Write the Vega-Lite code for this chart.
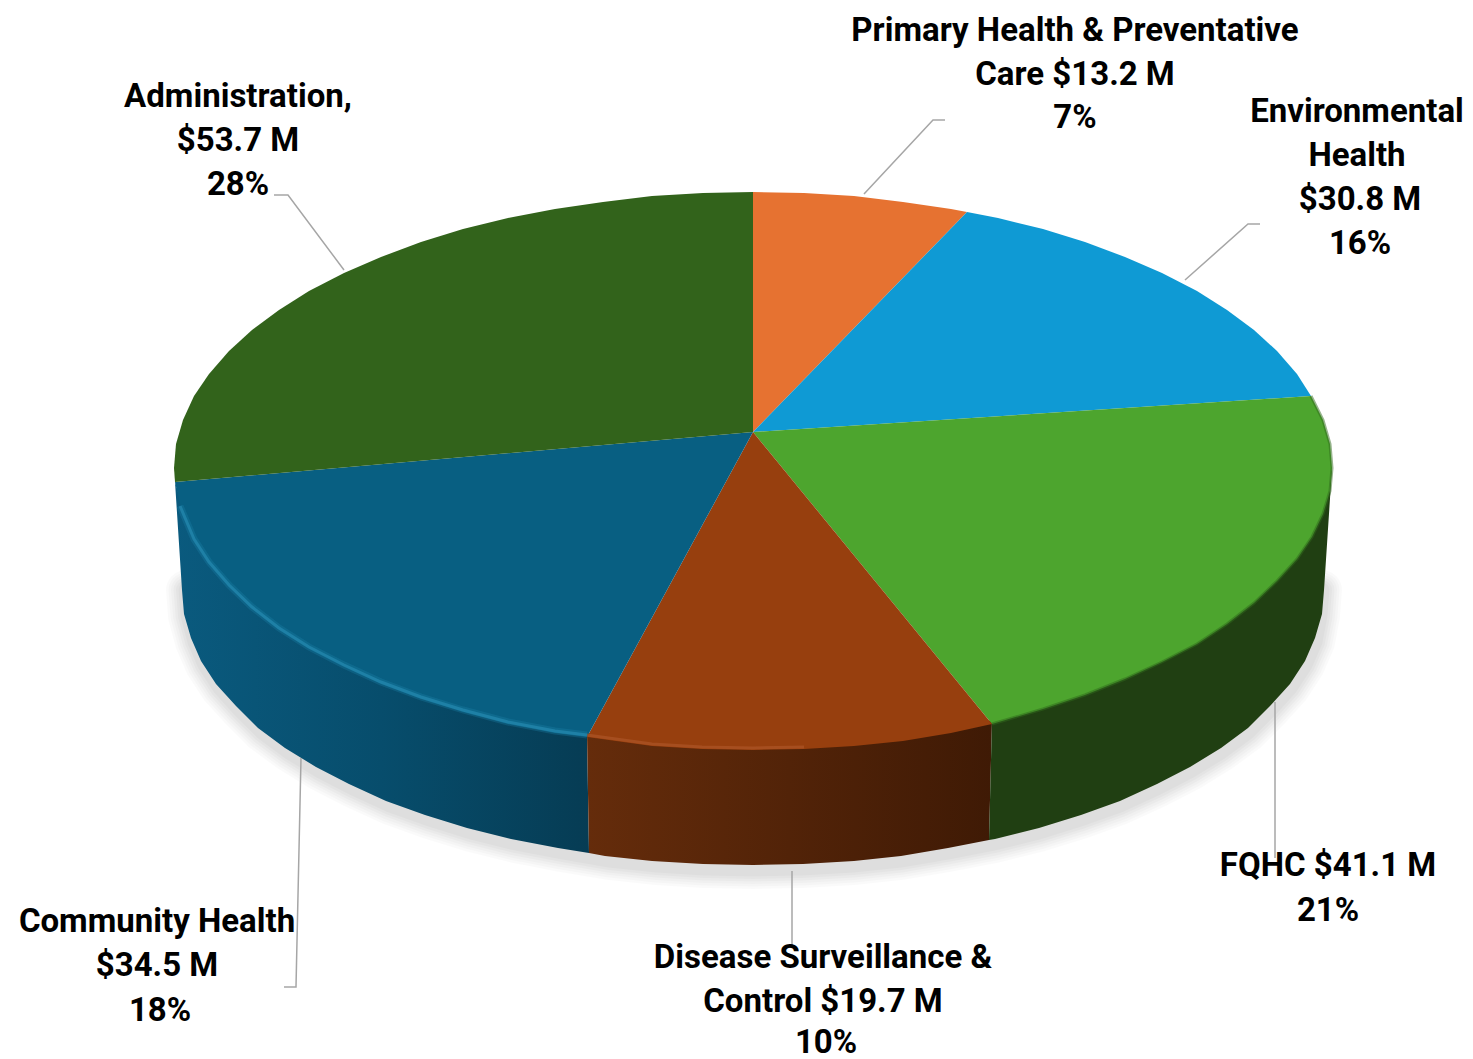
{
"$schema":"https://vega.github.io/schema/vega-lite/v6.json",
"width":1473,"height":1059,"padding":0,"autosize":{"type":"none"},
"background":"#ffffff","view":{"stroke":null},
"datasets":{
"top":[
{"s":"Primary Health","o":0,"x":753,"y":432},{"s":"Primary Health","o":1,"x":753,"y":192},{"s":"Primary Health","o":2,"x":804,"y":193},{"s":"Primary Health","o":3,"x":854,"y":196},{"s":"Primary Health","o":4,"x":903,"y":202},{"s":"Primary Health","o":5,"x":951,"y":209},{"s":"Primary Health","o":6,"x":967,"y":212},
{"s":"Environmental","o":0,"x":753,"y":432},{"s":"Environmental","o":1,"x":967,"y":212},{"s":"Environmental","o":2,"x":998,"y":218},{"s":"Environmental","o":3,"x":1043,"y":229},{"s":"Environmental","o":4,"x":1085,"y":242},{"s":"Environmental","o":5,"x":1125,"y":257},{"s":"Environmental","o":6,"x":1162,"y":273},{"s":"Environmental","o":7,"x":1197,"y":291},{"s":"Environmental","o":8,"x":1227,"y":310},{"s":"Environmental","o":9,"x":1254,"y":330},{"s":"Environmental","o":10,"x":1277,"y":351},{"s":"Environmental","o":11,"x":1297,"y":374},{"s":"Environmental","o":12,"x":1311,"y":396},
{"s":"FQHC","o":0,"x":753,"y":432},{"s":"FQHC","o":1,"x":1311,"y":396},{"s":"FQHC","o":2,"x":1323,"y":420},{"s":"FQHC","o":3,"x":1330,"y":444},{"s":"FQHC","o":4,"x":1332,"y":468},{"s":"FQHC","o":5,"x":1330,"y":491},{"s":"FQHC","o":6,"x":1323,"y":514},{"s":"FQHC","o":7,"x":1312,"y":537},{"s":"FQHC","o":8,"x":1297,"y":559},{"s":"FQHC","o":9,"x":1277,"y":581},{"s":"FQHC","o":10,"x":1254,"y":603},{"s":"FQHC","o":11,"x":1227,"y":624},{"s":"FQHC","o":12,"x":1197,"y":644},{"s":"FQHC","o":13,"x":1162,"y":662},{"s":"FQHC","o":14,"x":1125,"y":679},{"s":"FQHC","o":15,"x":1085,"y":695},{"s":"FQHC","o":16,"x":1043,"y":709},{"s":"FQHC","o":17,"x":992,"y":724},
{"s":"Disease","o":0,"x":753,"y":432},{"s":"Disease","o":1,"x":992,"y":724},{"s":"Disease","o":2,"x":951,"y":733},{"s":"Disease","o":3,"x":903,"y":741},{"s":"Disease","o":4,"x":854,"y":746},{"s":"Disease","o":5,"x":804,"y":749},{"s":"Disease","o":6,"x":753,"y":750},{"s":"Disease","o":7,"x":702,"y":749},{"s":"Disease","o":8,"x":652,"y":746},{"s":"Disease","o":9,"x":587,"y":737},
{"s":"Community","o":0,"x":753,"y":432},{"s":"Community","o":1,"x":587,"y":737},{"s":"Community","o":2,"x":555,"y":733},{"s":"Community","o":3,"x":508,"y":724},{"s":"Community","o":4,"x":463,"y":712},{"s":"Community","o":5,"x":421,"y":699},{"s":"Community","o":6,"x":381,"y":684},{"s":"Community","o":7,"x":344,"y":667},{"s":"Community","o":8,"x":309,"y":649},{"s":"Community","o":9,"x":279,"y":630},{"s":"Community","o":10,"x":252,"y":609},{"s":"Community","o":11,"x":229,"y":587},{"s":"Community","o":12,"x":209,"y":564},{"s":"Community","o":13,"x":194,"y":541},{"s":"Community","o":14,"x":183,"y":517},{"s":"Community","o":15,"x":175,"y":482},
{"s":"Administration","o":0,"x":753,"y":432},{"s":"Administration","o":1,"x":175,"y":482},{"s":"Administration","o":2,"x":174,"y":468},{"s":"Administration","o":3,"x":176,"y":444},{"s":"Administration","o":4,"x":183,"y":420},{"s":"Administration","o":5,"x":194,"y":396},{"s":"Administration","o":6,"x":209,"y":374},{"s":"Administration","o":7,"x":229,"y":351},{"s":"Administration","o":8,"x":252,"y":330},{"s":"Administration","o":9,"x":279,"y":310},{"s":"Administration","o":10,"x":309,"y":291},{"s":"Administration","o":11,"x":344,"y":273},{"s":"Administration","o":12,"x":381,"y":257},{"s":"Administration","o":13,"x":421,"y":242},{"s":"Administration","o":14,"x":463,"y":229},{"s":"Administration","o":15,"x":508,"y":218},{"s":"Administration","o":16,"x":555,"y":209},{"s":"Administration","o":17,"x":603,"y":202},{"s":"Administration","o":18,"x":652,"y":196},{"s":"Administration","o":19,"x":703,"y":193},{"s":"Administration","o":20,"x":753,"y":192}
],
"sideFQHC":[
{"o":0,"x":1332,"y":468},{"o":1,"x":1320,"y":510},{"o":2,"x":1290,"y":555},{"o":3,"x":1245,"y":600},{"o":4,"x":1190,"y":640},{"o":5,"x":1120,"y":675},{"o":6,"x":1040,"y":705},{"o":7,"x":992,"y":720},
{"o":8,"x":989,"y":840},{"o":9,"x":995,"y":839},{"o":10,"x":1039,"y":828},{"o":11,"x":1081,"y":815},{"o":12,"x":1120,"y":801},{"o":13,"x":1157,"y":784},{"o":14,"x":1190,"y":767},{"o":15,"x":1221,"y":748},{"o":16,"x":1248,"y":728},{"o":17,"x":1270,"y":706},{"o":18,"x":1290,"y":684},{"o":19,"x":1305,"y":661},{"o":20,"x":1315,"y":638},{"o":21,"x":1322,"y":614},{"o":22,"x":1324,"y":590}
],
"sideDisease":[
{"o":0,"x":992,"y":720},{"o":1,"x":951,"y":730},{"o":2,"x":854,"y":743},{"o":3,"x":753,"y":747},{"o":4,"x":652,"y":743},{"o":5,"x":587,"y":733},
{"o":6,"x":589,"y":853},{"o":7,"x":605,"y":856},{"o":8,"x":652,"y":861},{"o":9,"x":703,"y":864},{"o":10,"x":753,"y":865},{"o":11,"x":803,"y":864},{"o":12,"x":854,"y":861},{"o":13,"x":901,"y":856},{"o":14,"x":948,"y":848},{"o":15,"x":989,"y":840}
],
"sideCommunity":[
{"o":0,"x":587,"y":733},{"o":1,"x":463,"y":708},{"o":2,"x":381,"y":680},{"o":3,"x":309,"y":645},{"o":4,"x":252,"y":605},{"o":5,"x":209,"y":560},{"o":6,"x":185,"y":515},{"o":7,"x":175,"y":482},
{"o":8,"x":182,"y":590},{"o":9,"x":184,"y":614},{"o":10,"x":191,"y":638},{"o":11,"x":201,"y":661},{"o":12,"x":216,"y":684},{"o":13,"x":236,"y":706},{"o":14,"x":258,"y":728},{"o":15,"x":285,"y":748},{"o":16,"x":316,"y":767},{"o":17,"x":349,"y":784},{"o":18,"x":386,"y":801},{"o":19,"x":425,"y":815},{"o":20,"x":467,"y":828},{"o":21,"x":511,"y":839},{"o":22,"x":558,"y":848},{"o":23,"x":589,"y":853}
],
"shadow":[
{"o":0,"x":186,"y":590},{"o":1,"x":188,"y":616},{"o":2,"x":195,"y":642},{"o":3,"x":205,"y":665},{"o":4,"x":220,"y":688},{"o":5,"x":240,"y":710},{"o":6,"x":262,"y":732},{"o":7,"x":289,"y":752},{"o":8,"x":320,"y":771},{"o":9,"x":353,"y":788},{"o":10,"x":390,"y":805},{"o":11,"x":429,"y":819},{"o":12,"x":471,"y":832},{"o":13,"x":515,"y":843},{"o":14,"x":562,"y":852},{"o":15,"x":609,"y":860},{"o":16,"x":656,"y":865},{"o":17,"x":703,"y":868},{"o":18,"x":753,"y":869},{"o":19,"x":803,"y":868},{"o":20,"x":854,"y":865},{"o":21,"x":901,"y":860},{"o":22,"x":948,"y":852},{"o":23,"x":995,"y":843},{"o":24,"x":1039,"y":832},{"o":25,"x":1081,"y":819},{"o":26,"x":1120,"y":805},{"o":27,"x":1157,"y":788},{"o":28,"x":1190,"y":771},{"o":29,"x":1221,"y":752},{"o":30,"x":1248,"y":732},{"o":31,"x":1270,"y":710},{"o":32,"x":1290,"y":688},{"o":33,"x":1305,"y":665},{"o":34,"x":1315,"y":642},{"o":35,"x":1320,"y":616},{"o":36,"x":1322,"y":590}
],
"rimBlue":[
{"o":0,"x":180,"y":506},{"o":1,"x":194,"y":539},{"o":2,"x":209,"y":562},{"o":3,"x":229,"y":585},{"o":4,"x":252,"y":607},{"o":5,"x":279,"y":628},{"o":6,"x":309,"y":647},{"o":7,"x":344,"y":665},{"o":8,"x":381,"y":682},{"o":9,"x":421,"y":697},{"o":10,"x":463,"y":710},{"o":11,"x":508,"y":722},{"o":12,"x":555,"y":731},{"o":13,"x":587,"y":735}
],
"rimBrown":[
{"o":0,"x":587,"y":735},{"o":1,"x":652,"y":744},{"o":2,"x":702,"y":747},{"o":3,"x":753,"y":748},{"o":4,"x":804,"y":747}
],
"rimGreen":[
{"o":0,"x":1311,"y":396},{"o":1,"x":1323,"y":420},{"o":2,"x":1330,"y":444},{"o":3,"x":1332,"y":468},{"o":4,"x":1330,"y":491},{"o":5,"x":1323,"y":514},{"o":6,"x":1312,"y":537},{"o":7,"x":1297,"y":559},{"o":8,"x":1277,"y":581},{"o":9,"x":1254,"y":603},{"o":10,"x":1227,"y":624},{"o":11,"x":1197,"y":644},{"o":12,"x":1162,"y":662},{"o":13,"x":1125,"y":679},{"o":14,"x":1085,"y":695},{"o":15,"x":1043,"y":709},{"o":16,"x":992,"y":724}
],
"leaders":[
{"g":"Primary","o":0,"x":864,"y":194},{"g":"Primary","o":1,"x":933,"y":120},{"g":"Primary","o":2,"x":945,"y":120},
{"g":"Env","o":0,"x":1185,"y":280},{"g":"Env","o":1,"x":1248,"y":224},{"g":"Env","o":2,"x":1260,"y":224},
{"g":"FQHC","o":0,"x":1275,"y":702},{"g":"FQHC","o":1,"x":1275,"y":858},
{"g":"Disease","o":0,"x":792,"y":871},{"g":"Disease","o":1,"x":792,"y":945},
{"g":"Community","o":0,"x":301,"y":758},{"g":"Community","o":1,"x":296,"y":987},{"g":"Community","o":2,"x":284,"y":987},
{"g":"Admin","o":0,"x":344,"y":270},{"g":"Admin","o":1,"x":288,"y":195},{"g":"Admin","o":2,"x":274,"y":195}
],
"labels":[
{"t":"Primary Health & Preventative","x":1075,"y":31},{"t":"Care $13.2 M","x":1075,"y":75},{"t":"7%","x":1075,"y":118},
{"t":"Environmental","x":1357,"y":112},{"t":"Health","x":1357,"y":156},{"t":"$30.8 M","x":1360,"y":200},{"t":"16%","x":1360,"y":244},
{"t":"FQHC $41.1 M","x":1328,"y":866},{"t":"21%","x":1328,"y":911},
{"t":"Disease Surveillance &","x":823,"y":958},{"t":"Control $19.7 M","x":823,"y":1002},{"t":"10%","x":826,"y":1043},
{"t":"Community Health","x":157,"y":922},{"t":"$34.5 M","x":157,"y":966},{"t":"18%","x":160,"y":1011},
{"t":"Administration,","x":238,"y":97},{"t":"$53.7 M","x":238,"y":141},{"t":"28%","x":238,"y":185}
]
},
"encoding":{
"x":{"field":"x","type":"quantitative","axis":null,"scale":{"domain":[0,1473],"nice":false,"zero":false}},
"y":{"field":"y","type":"quantitative","axis":null,"scale":{"domain":[0,1059],"reverse":true,"nice":false,"zero":false}}
},
"layer":[
{"data":{"name":"shadow"},"mark":{"type":"line","stroke":"#000000","strokeWidth":40,"opacity":0.02,"strokeCap":"round"},"encoding":{"order":{"field":"o"}}},
{"data":{"name":"shadow"},"mark":{"type":"line","stroke":"#000000","strokeWidth":35,"opacity":0.02,"strokeCap":"round"},"encoding":{"order":{"field":"o"}}},
{"data":{"name":"shadow"},"mark":{"type":"line","stroke":"#000000","strokeWidth":30,"opacity":0.02,"strokeCap":"round"},"encoding":{"order":{"field":"o"}}},
{"data":{"name":"shadow"},"mark":{"type":"line","stroke":"#000000","strokeWidth":25,"opacity":0.025,"strokeCap":"round"},"encoding":{"order":{"field":"o"}}},
{"data":{"name":"shadow"},"mark":{"type":"line","stroke":"#000000","strokeWidth":20,"opacity":0.025,"strokeCap":"round"},"encoding":{"order":{"field":"o"}}},
{"data":{"name":"shadow"},"mark":{"type":"line","stroke":"#000000","strokeWidth":15,"opacity":0.025,"strokeCap":"round"},"encoding":{"order":{"field":"o"}}},
{"data":{"name":"sideCommunity"},"mark":{"type":"line","filled":true,"strokeWidth":0,"fill":{"gradient":"linear","x1":0,"y1":0,"x2":1,"y2":0,"stops":[{"offset":0,"color":"#0a5a7e"},{"offset":0.5,"color":"#074d6c"},{"offset":1,"color":"#063c54"}]}},"encoding":{"order":{"field":"o"}}},
{"data":{"name":"sideDisease"},"mark":{"type":"line","filled":true,"strokeWidth":0,"fill":{"gradient":"linear","x1":0,"y1":0,"x2":1,"y2":0,"stops":[{"offset":0,"color":"#652c0b"},{"offset":1,"color":"#3f1a05"}]}},"encoding":{"order":{"field":"o"}}},
{"data":{"name":"sideFQHC"},"mark":{"type":"line","filled":true,"strokeWidth":0,"fill":"#203f12"},"encoding":{"order":{"field":"o"}}},
{"data":{"name":"top"},"mark":{"type":"line","filled":true,"strokeWidth":0},"encoding":{
"detail":{"field":"s"},"order":{"field":"o"},
"fill":{"field":"s","type":"nominal","legend":null,"scale":{"domain":["Primary Health","Environmental","FQHC","Disease","Community","Administration"],"range":["#e67231","#0f9ad4","#4da52e","#973f0e","#085f82","#32631b"]}}}},
{"data":{"name":"rimGreen"},"mark":{"type":"line","stroke":"#2f6a1c","strokeWidth":3,"opacity":0.5},"encoding":{"order":{"field":"o"}}},
{"data":{"name":"rimBlue"},"mark":{"type":"line","stroke":"#1f86ad","strokeWidth":7,"opacity":0.3},"encoding":{"order":{"field":"o"}}},
{"data":{"name":"rimBlue"},"mark":{"type":"line","stroke":"#2a8fb6","strokeWidth":3,"opacity":0.6},"encoding":{"order":{"field":"o"}}},
{"data":{"name":"rimBrown"},"mark":{"type":"line","stroke":"#b0582b","strokeWidth":3,"opacity":0.6},"encoding":{"order":{"field":"o"}}},
{"data":{"name":"leaders"},"mark":{"type":"line","stroke":"#a6a6a6","strokeWidth":1.5},"encoding":{"detail":{"field":"g"},"order":{"field":"o"}}},
{"data":{"name":"labels"},"mark":{"type":"text","font":"Roboto","fontWeight":"bold","fontSize":33,"color":"#000000","align":"center","baseline":"middle"},"encoding":{"text":{"field":"t"}}}
]
}
